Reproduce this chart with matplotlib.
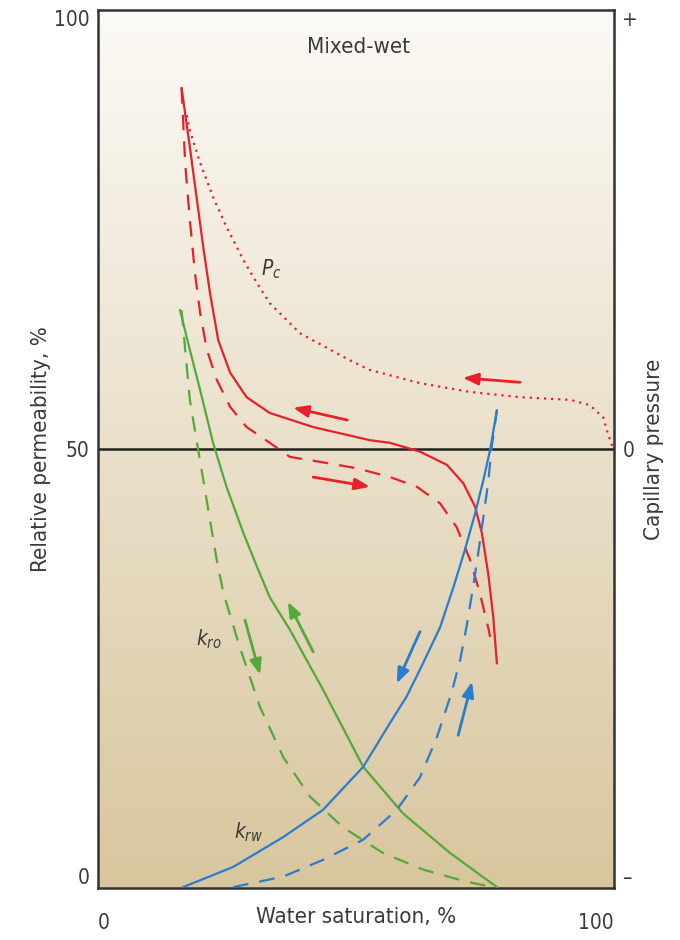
import matplotlib
matplotlib.use("Agg")
import matplotlib.pyplot as plt
import numpy as np

# Curvas (saturacion de agua %, permeabilidad relativa %)
pc_solido_x = [16.2, 17.8, 19.1, 20.4, 21.7, 23.3, 25.6, 28.8, 33.3, 41.7, 52.7, 56.6, 62.4, 67.6, 70.8, 73.1, 74.4, 75.6, 76.6, 77.3]
pc_solido_y = [91.1, 84.4, 78.7, 73.0, 67.8, 62.4, 58.7, 55.9, 54.1, 52.5, 51.0, 50.7, 49.7, 48.2, 46.1, 43.4, 40.4, 35.9, 30.9, 25.6]

pc_guion_x = [16.2, 16.9, 17.8, 18.8, 19.8, 21.1, 23.0, 25.6, 28.8, 33.3, 37.2, 44.4, 50.2, 56.6, 61.8, 66.3, 69.5, 72.1, 74.0, 75.6, 76.0]
pc_guion_y = [91.1, 82.5, 76.1, 70.0, 65.5, 61.3, 57.9, 54.8, 52.5, 50.7, 49.1, 48.4, 47.8, 46.8, 45.7, 43.8, 41.1, 37.4, 33.6, 29.7, 28.6]

pc_punto_x = [17.2, 17.8, 19.8, 22.3, 24.9, 28.2, 30.8, 33.3, 39.1, 48.8, 52.7, 62.4, 72.1, 81.8, 91.5, 95.3, 97.9, 98.8, 99.8]
pc_punto_y = [88.0, 86.3, 82.6, 78.7, 75.3, 71.5, 68.9, 66.6, 63.2, 60.1, 59.0, 57.5, 56.5, 55.9, 55.6, 55.0, 53.6, 51.8, 50.1]

kro_solido_x = [15.9, 17.8, 19.8, 22.3, 24.9, 28.2, 30.8, 33.3, 37.2, 43.6, 51.4, 59.1, 68.2, 77.3]
kro_solido_y = [65.8, 61.3, 56.7, 50.7, 45.7, 40.4, 36.6, 33.1, 29.4, 22.6, 13.8, 8.5, 4.0, 0.1]

kro_guion_x = [16.2, 16.9, 17.8, 19.1, 20.4, 21.7, 23.0, 24.3, 27.5, 31.4, 35.9, 41.1, 47.5, 55.2, 63.0, 71.5, 76.6]
kro_guion_y = [65.8, 61.3, 55.6, 51.0, 46.5, 41.9, 37.4, 33.6, 27.4, 20.6, 14.9, 10.4, 6.9, 4.0, 2.1, 0.7, 0.1]

krw_solido_x = [16.5, 26.2, 35.9, 43.6, 51.4, 56.6, 59.8, 63.0, 66.3, 68.9, 71.1, 73.1, 74.7, 76.0, 77.3]
krw_solido_y = [0.1, 2.4, 5.8, 8.9, 13.8, 18.8, 21.8, 25.6, 29.7, 34.3, 38.5, 42.7, 46.5, 49.9, 54.4]

krw_guion_x = [26.2, 35.9, 43.6, 51.4, 57.9, 62.4, 65.7, 68.5, 70.2, 71.4, 72.7, 73.7, 74.6, 75.6, 76.3, 77.3]
krw_guion_y = [0.1, 1.3, 3.2, 5.5, 8.9, 12.6, 17.2, 22.2, 26.0, 29.7, 34.3, 38.2, 41.9, 46.1, 50.2, 54.4]

# Flechas: (cola x, cola y, punta x, punta y, color)
flechas = [
    (81.8, 57.6, 70.7, 58.1, "rojo"),
    (48.3, 53.3, 37.8, 54.7, "rojo"),
    (41.7, 46.8, 52.7, 45.7, "rojo"),
    (28.5, 30.5, 31.4, 24.3, "verde"),
    (41.7, 26.9, 36.8, 32.6, "verde"),
    (62.4, 29.2, 57.9, 23.3, "azul"),
    (69.8, 17.4, 72.5, 23.5, "azul"),
]

colores = {"rojo": "#e8202a", "verde": "#55a83c", "azul": "#2a7ccc"}
texto = "#3a3a3a"

plt.rcParams["font.family"] = ["DejaVu Sans"]
plt.rcParams["font.stretch"] = "condensed"
plt.rcParams["mathtext.fontset"] = "dejavusans"

fig = plt.figure(figsize=(6.8, 9.4), dpi=100)
ax = fig.add_axes([98 / 680, 1 - 888 / 940, 516 / 680, 878 / 940])

# Fondo degradado
grad = np.linspace(0, 1, 256).reshape(-1, 1)
arriba = np.array([252, 250, 246]) / 255
abajo = np.array([216, 198, 158]) / 255
img = arriba + (abajo - arriba) * grad[:, :, None]
ax.imshow(img, extent=[0, 100, 0, 100], aspect="auto", origin="upper", zorder=0)

ax.set_xlim(0, 100)
ax.set_ylim(0, 100)

ax.axhline(50, color="#222222", lw=1.8, zorder=2)

lw = 1.6
ax.plot(pc_solido_x, pc_solido_y, color=colores["rojo"], lw=lw, zorder=3)
ax.plot(pc_guion_x, pc_guion_y, color=colores["rojo"], lw=lw, dashes=(7, 5), zorder=3)
ax.plot(pc_punto_x, pc_punto_y, color=colores["rojo"], lw=1.6, dashes=(1, 2.2), zorder=3)
ax.plot(kro_solido_x, kro_solido_y, color=colores["verde"], lw=lw, zorder=3)
ax.plot(kro_guion_x, kro_guion_y, color=colores["verde"], lw=lw, dashes=(7, 5), zorder=3)
ax.plot(krw_solido_x, krw_solido_y, color=colores["azul"], lw=lw, zorder=3)
ax.plot(krw_guion_x, krw_guion_y, color=colores["azul"], lw=lw, dashes=(7, 5), zorder=3)

for x0, y0, x1, y1, c in flechas:
    ax.annotate("", xy=(x1, y1), xytext=(x0, y0),
                arrowprops=dict(arrowstyle="-|>,head_length=0.9,head_width=0.35",
                                color=colores[c], lw=2.0, shrinkA=0, shrinkB=0),
                zorder=4)

ax.text(50.4, 95.8, "Mixed-wet", ha="center", va="center", fontsize=16, color=texto)
ax.text(33.5, 70.5, "$P_c$", ha="center", va="center", fontsize=15, color=texto)
ax.text(21.5, 28.3, "$k_{ro}$", ha="center", va="center", fontsize=15, color=texto)
ax.text(29.2, 6.4, "$k_{rw}$", ha="center", va="center", fontsize=15, color=texto)

for s in ax.spines.values():
    s.set_color("#333333")
    s.set_linewidth(1.8)

ax.set_yticks([0, 50, 100])
ax.set_yticklabels(["0", "50", "100"], fontsize=15, color=texto)
etq = ax.get_yticklabels()
etq[0].set_va("bottom")
etq[2].set_va("top")
ax.set_xticks([0, 100])
ax.set_xticklabels(["0", "100"], fontsize=15, color=texto)
etx = ax.get_xticklabels()
etx[0].set_ha("left")
etx[1].set_ha("right")
ax.tick_params(length=0, pad=6)
ax.tick_params(axis="x", pad=18)
ax.set_xlabel("Water saturation, %", fontsize=16, color=texto, labelpad=-19)
ax.set_ylabel("Relative permeability, %", fontsize=16, color=texto, labelpad=2)

ax2 = ax.twinx()
ax2.set_ylim(0, 100)
ax2.set_yticks([0, 50, 100])
ax2.set_yticklabels(["\u2013", "0", "+"], fontsize=15, color=texto)
et2 = ax2.get_yticklabels()
et2[0].set_va("bottom")
et2[2].set_va("top")
ax2.tick_params(length=0, pad=6)
for s in ax2.spines.values():
    s.set_visible(False)
ax2.set_ylabel("Capillary pressure", fontsize=16, color=texto, rotation=90, labelpad=4)

fig.savefig("out.png", dpi=100)
